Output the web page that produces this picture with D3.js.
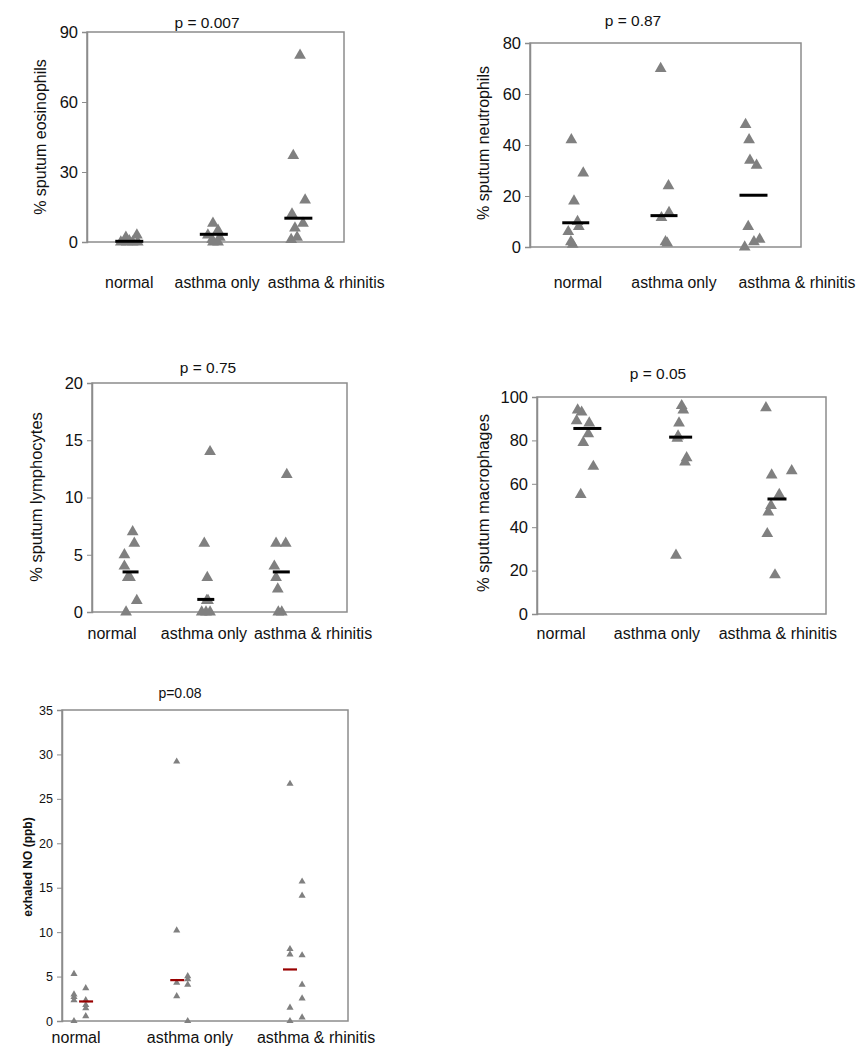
<!DOCTYPE html>
<html>
<head>
<meta charset="utf-8">
<script src="https://cdn.jsdelivr.net/npm/d3@7"></script>
<style>
  html, body { margin: 0; padding: 0; background: #fff; }
  svg { display: block; font-family: "Liberation Sans", Arial, sans-serif; }
</style>
</head>
<body>
<svg id="chart" width="865" height="1050"></svg>
<script>
// ---------- DATA ----------
const categories = ["normal", "asthma only", "asthma & rhinitis"];

// Eosinophils (%)
const eosNormal = [2, 3, 0.5, 0, 0, 0, 0];
const eosAsthmaOnly = [8, 5, 3, 2, 1, 0, 0];
const eosAsthmaRhinitis = [80, 37, 18, 12, 8, 6, 2, 1];
const eosMedians = [0.3, 3.3, 10.2];
const eosTicks = [0, 30, 60, 90];

// Neutrophils (%)
const neuNormal = [42, 29, 18, 10, 8, 6, 2, 1];
const neuAsthmaOnly = [70, 24, 13.5, 11.5, 2, 1.5];
const neuAsthmaRhinitis = [48, 42, 34, 32, 8, 3, 2, 0];
const neuMedians = [9.5, 12.3, 20.3];
const neuTicks = [0, 20, 40, 60, 80];

// Lymphocytes (%)
const lymNormal = [7, 6, 5, 4, 3, 3, 1, 0];
const lymAsthmaOnly = [14, 6, 3, 1, 1, 0, 0, 0];
const lymAsthmaRhinitis = [12, 6, 6, 4, 3, 2, 0, 0];
const lymMedians = [3.5, 1.1, 3.5];
const lymTicks = [0, 5, 10, 15, 20];

// Macrophages (%)
const macNormal = [94, 93, 89, 88, 83, 79, 68, 55];
const macAsthmaOnly = [96, 94, 88, 82, 81, 72, 70, 27];
const macAsthmaRhinitis = [95, 66, 64, 55, 50, 47, 37, 18];
const macMedians = [85.5, 81.5, 53];
const macTicks = [0, 20, 40, 60, 80, 100];

// Exhaled NO (ppb)
const noNormal = [5.3, 3.0, 2.7, 2.35, 0, 3.7, 2.35, 1.8, 1.45, 0.55];
const noAsthmaOnly = [29.2, 10.2, 4.3, 2.8, 5.05, 4.7, 4.1, 0];
const noAsthmaRhinitis = [26.7, 8.1, 7.5, 1.5, 0, 15.7, 14.1, 7.4, 4.1, 2.55, 0.4];
const noMedians = [2.2, 4.6, 5.8];
const noTicks = [0, 5, 10, 15, 20, 25, 30, 35];

// ---------- LAYOUT (jitter in category units) ----------
const eosJitter = [
  [-0.04, 0.09, 0.0, -0.1, -0.03, 0.04, 0.1],
  [-0.01, 0.05, -0.07, 0.07, -0.02, -0.01, 0.05],
  [0.02, -0.06, 0.08, -0.075, 0.055, -0.04, -0.015, -0.085]
];
const neuJitter = [
  [-0.04, 0.095, -0.01, 0.03, 0.045, -0.075, -0.045, -0.025],
  [-0.025, 0.064, 0.07, -0.016, 0.03, 0.05],
  [-0.06, -0.02, -0.01, 0.065, -0.03, 0.1, 0.035, -0.07]
];
const lymJitter = [
  [0.035, 0.057, -0.075, -0.075, -0.03, 0.0, 0.09, -0.053],
  [0.067, -0.01, 0.03, 0.023, 0.04, -0.044, 0.067, 0.013],
  [0.09, -0.053, 0.076, -0.076, -0.053, -0.03, -0.023, 0.023]
];
const macJitter = [
  [-0.077, -0.035, -0.088, 0.045, 0.035, -0.018, 0.088, -0.045],
  [0.018, 0.035, -0.01, -0.02, -0.028, 0.07, 0.053, -0.042],
  [-0.095, 0.176, -0.035, 0.045, -0.042, -0.07, -0.081, 0.0]
];
const noJitter = [
  [-0.056, -0.056, -0.056, -0.056, -0.056, 0.053, 0.053, 0.053, 0.053, 0.053],
  [-0.105, -0.105, -0.105, -0.105, -0.003, -0.003, -0.003, -0.003],
  [-0.056, -0.056, -0.056, -0.056, -0.056, 0.056, 0.056, 0.056, 0.056, 0.056, 0.056]
];

const panels = [
  { title: "p = 0.007", ylabel: "% sputum eosinophils",
    groups: [eosNormal, eosAsthmaOnly, eosAsthmaRhinitis], jitter: eosJitter,
    medians: eosMedians, medJitter: [0, 0, 0], ticks: eosTicks,
    box: [87, 344, 32, 242], xdom: [0.5, 3.54], labelPos: [1.0, 2.04, 3.33], labelY: 288,
    titleX: 207, titleY: 28, ylabX: 40, ylabY: 137,
    tickFont: 16.5, catFont: 15.8, titleFont: 15.5, ylabFont: 16, ylabWeight: "normal",
    tri: 60, medW: [28, 28, 28], medStroke: 3, medColor: "#000" },
  { title: "p = 0.87", ylabel: "% sputum neutrophils",
    groups: [neuNormal, neuAsthmaOnly, neuAsthmaRhinitis], jitter: neuJitter,
    medians: neuMedians, medJitter: [0.01, 0.013, 0.03], ticks: neuTicks,
    box: [530, 801, 43, 247], xdom: [0.49, 3.57], labelPos: [1.035, 2.126, 3.524], labelY: 288,
    titleX: 633, titleY: 26, ylabX: 483, ylabY: 143,
    tickFont: 16.5, catFont: 15.8, titleFont: 15.5, ylabFont: 16, ylabWeight: "normal",
    tri: 60, medW: [27, 27, 28], medStroke: 3, medColor: "#000" },
  { title: "p = 0.75", ylabel: "% sputum lymphocytes",
    groups: [lymNormal, lymAsthmaOnly, lymAsthmaRhinitis], jitter: lymJitter,
    medians: lymMedians, medJitter: [0.007, 0.01, 0.017], ticks: lymTicks,
    box: [92, 347, 383, 612], xdom: [0.493, 3.893], labelPos: [0.76, 1.986, 3.44], labelY: 639,
    titleX: 208, titleY: 373, ylabX: 36, ylabY: 497,
    tickFont: 16.5, catFont: 16, titleFont: 15.5, ylabFont: 16.5, ylabWeight: "normal",
    tri: 60, medW: [16, 17, 17], medStroke: 3, medColor: "#000" },
  { title: "p = 0.05", ylabel: "% sputum macrophages",
    groups: [macNormal, macAsthmaOnly, macAsthmaRhinitis], jitter: macJitter,
    medians: macMedians, medJitter: [0.025, 0.007, 0.021], ticks: macTicks,
    box: [537, 826, 397, 614], xdom: [0.495, 3.537], labelPos: [0.748, 1.758, 3.03], labelY: 639,
    titleX: 658, titleY: 379, ylabX: 483, ylabY: 503,
    tickFont: 16.5, catFont: 16, titleFont: 15.5, ylabFont: 16.5, ylabWeight: "normal",
    tri: 60, medW: [28, 23, 19], medStroke: 3, medColor: "#000" },
  { title: "p=0.08", ylabel: "exhaled NO (ppb)",
    groups: [noNormal, noAsthmaOnly, noAsthmaRhinitis], jitter: noJitter,
    medians: noMedians, medJitter: [0.056, -0.10, -0.056], ticks: noTicks,
    box: [62, 348, 710, 1021], xdom: [0.833, 3.481], labelPos: [0.963, 2.018, 3.185], labelY: 1043,
    titleX: 180, titleY: 698, ylabX: 28, ylabY: 867,
    tickFont: 12.5, catFont: 16, titleFont: 14, ylabFont: 12, ylabWeight: "bold",
    tri: 22, medW: [14, 14, 14], medStroke: 2.2, medColor: "#990000" }
];

// ---------- DRAW ----------
const svg = d3.select("#chart");

panels.forEach(p => {
  const [bx0, bx1, by0, by1] = p.box;
  const x = d3.scaleLinear().domain(p.xdom).range([bx0, bx1]);
  const y = d3.scaleLinear().domain([0, d3.max(p.ticks)]).range([by1, by0]);
  const g = svg.append("g");

  // plot box
  g.append("rect")
    .attr("x", bx0).attr("y", by0)
    .attr("width", bx1 - bx0).attr("height", by1 - by0)
    .attr("fill", "none").attr("stroke", "#8c8c8c").attr("stroke-width", 1.5);

  // y axis
  const ax = g.append("g").attr("transform", `translate(${bx0},0)`)
    .call(d3.axisLeft(y).tickValues(p.ticks).tickSize(5).tickPadding(4).tickFormat(d3.format("d")));
  ax.select(".domain").attr("stroke", "#8c8c8c").attr("stroke-width", 1.5);
  ax.selectAll(".tick line").attr("stroke", "#8c8c8c").attr("stroke-width", 1);
  ax.selectAll(".tick text")
    .attr("fill", "#111")
    .style("font-size", p.tickFont + "px")
    .style("font-family", '"Liberation Sans", Arial, sans-serif');

  // points
  const tri = d3.symbol().type(d3.symbolTriangle).size(p.tri);
  p.groups.forEach((vals, gi) => {
    g.selectAll(null)
      .data(vals.map((v, i) => ({ v, j: p.jitter[gi][i] })))
      .join("path")
      .attr("d", tri)
      .attr("transform", d => `translate(${x(gi + 1 + d.j)},${y(d.v)})`)
      .attr("fill", "#808080");
  });

  // medians
  g.selectAll(null)
    .data(p.medians.map((m, i) => ({ m, i })))
    .join("line")
    .attr("x1", d => x(d.i + 1 + p.medJitter[d.i]) - p.medW[d.i] / 2)
    .attr("x2", d => x(d.i + 1 + p.medJitter[d.i]) + p.medW[d.i] / 2)
    .attr("y1", d => y(d.m)).attr("y2", d => y(d.m))
    .attr("stroke", p.medColor).attr("stroke-width", p.medStroke);

  // category labels
  g.selectAll(null)
    .data(categories)
    .join("text")
    .attr("x", (d, i) => x(p.labelPos[i]))
    .attr("y", p.labelY)
    .attr("text-anchor", "middle")
    .style("font-size", p.catFont + "px")
    .attr("fill", "#111")
    .text(d => d);

  // title
  g.append("text")
    .attr("x", p.titleX).attr("y", p.titleY)
    .attr("text-anchor", "middle")
    .style("font-size", p.titleFont + "px")
    .attr("fill", "#111")
    .text(p.title);

  // y label
  g.append("text")
    .attr("transform", `translate(${p.ylabX},${p.ylabY}) rotate(-90)`)
    .attr("text-anchor", "middle")
    .attr("dy", "0.35em")
    .style("font-size", p.ylabFont + "px")
    .style("font-weight", p.ylabWeight)
    .attr("fill", "#111")
    .text(p.ylabel);
});
</script>
</body>
</html>
